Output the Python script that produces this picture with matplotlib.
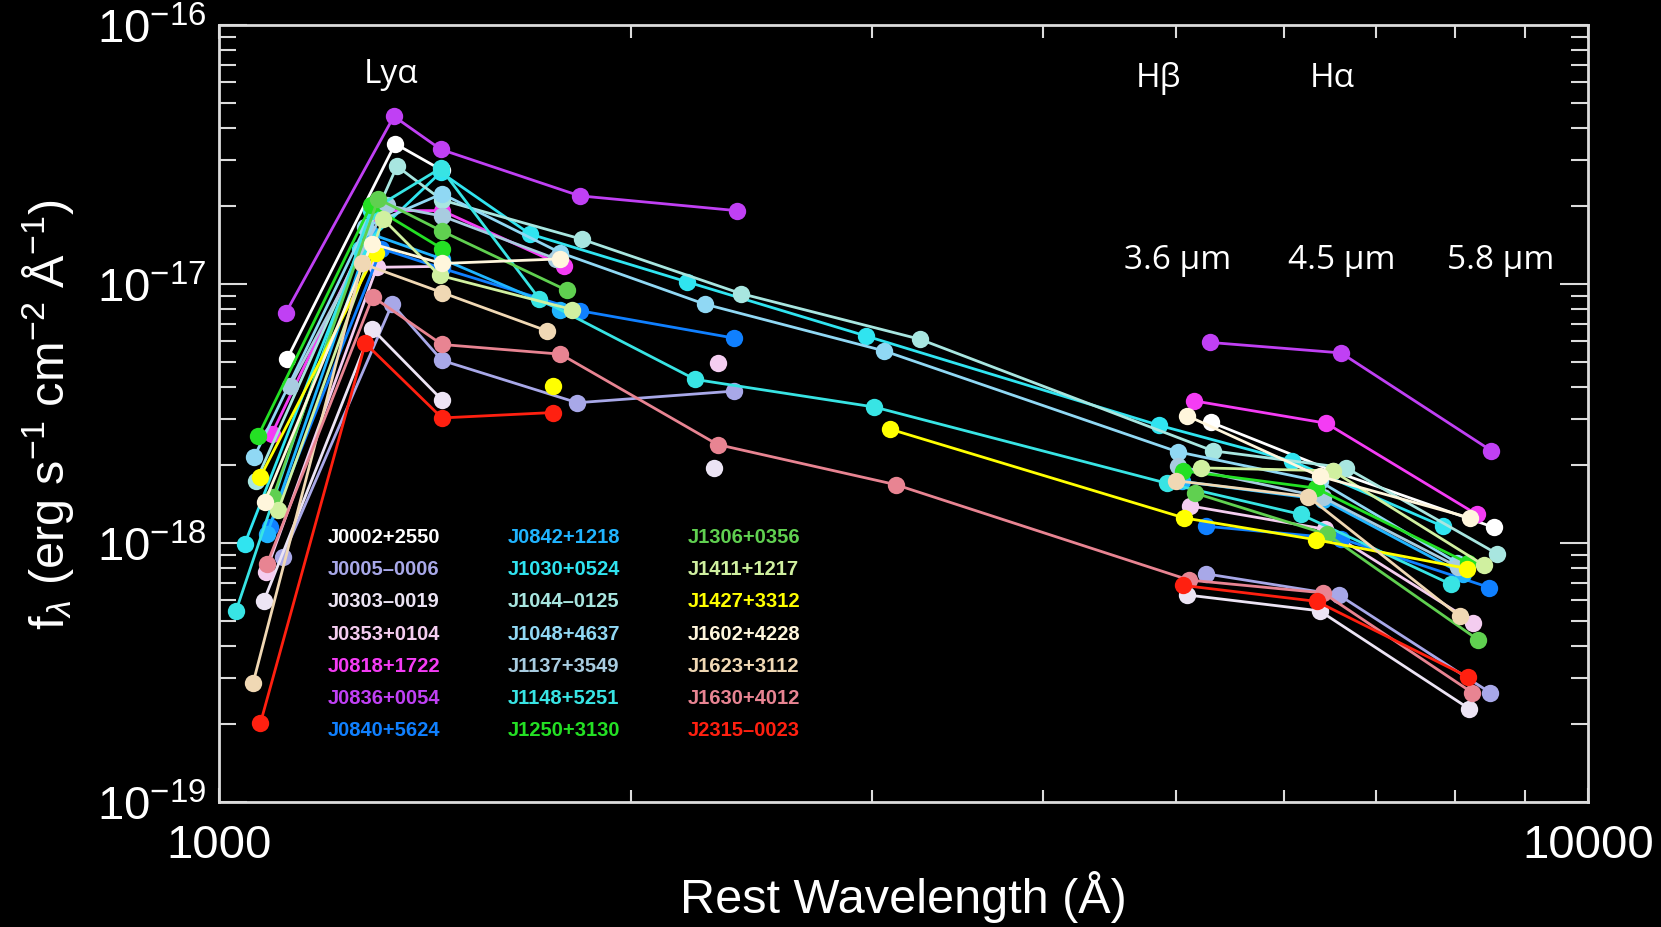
import numpy as np
import matplotlib
matplotlib.use("Agg")
import matplotlib.pyplot as plt
from matplotlib.ticker import FixedLocator, NullFormatter, FixedFormatter, LogLocator, LogFormatterSciNotation

nan = np.nan

# ---------------- data (rest wavelength in Angstrom, f_lambda in erg/s/cm2/A) ----------------
names = ["J0002+2550", "J0005-0006", "J0303-0019", "J0353+0104", "J0818+1722", "J0836+0054",
         "J0840+5624", "J0842+1218", "J1030+0524", "J1044-0125", "J1048+4637", "J1137+3549",
         "J1148+5251", "J1250+3130", "J1306+0356", "J1411+1217", "J1427+3312", "J1602+4228",
         "J1623+3112", "J1630+4012", "J2315-0023"]
colors = ["#ffffff", "#a8a8e8", "#ece4f4", "#f4cdf0", "#f43cf4", "#c040f4",
          "#1080ff", "#20b4ff", "#30e4f0", "#a8e6e0", "#90d8f4", "#a8cce0",
          "#38e4e4", "#24e024", "#60d050", "#d0f0a0", "#ffff00", "#fff6dc",
          "#f0d8b4", "#e88492", "#ff2010"]

j0002_wave = [1121, 1345, 1455, nan, 5300, 6508, 8532]
j0002_flux = [5.12e-18, 3.48e-17, 2.75e-17, nan, 2.93e-18, 1.90e-18, 1.15e-18]
j0005_wave = [1113, 1338, 1455, 1827, 2379, nan, 5262, 6577, 8486]
j0005_flux = [8.85e-19, 8.36e-18, 5.07e-18, 3.48e-18, 3.86e-18, nan, 7.60e-19, 6.30e-19, 2.64e-19]
j0303_wave = [1078, 1293, 1455, nan, 2300, nan, 5096, 6368, 8190]
j0303_flux = [5.95e-19, 6.73e-18, 3.57e-18, nan, 1.94e-18, nan, 6.30e-19, 5.47e-19, 2.29e-19]
j0353_wave = [1082, 1304, 1455, nan, 2313, nan, 5124, 6427, 8248]
j0353_flux = [7.75e-19, 1.16e-17, 1.17e-17, nan, 4.97e-18, nan, 1.39e-18, 1.13e-18, 4.93e-19]
j0818_wave = [1093, 1309, 1455, 1788, nan, 5152, 6439, 8293]
j0818_flux = [2.64e-18, 1.92e-17, 1.92e-17, 1.17e-17, nan, 3.54e-18, 2.90e-18, 1.29e-18]
j0836_wave = [1119, 1342, 1452, 1834, 2388, nan, 5291, 6600, 8501]
j0836_flux = [7.75e-18, 4.44e-17, 3.31e-17, 2.19e-17, 1.92e-17, nan, 5.95e-18, 5.42e-18, 2.27e-18]
j0840_wave = [1089, 1314, 1455, 1834, 2379, nan, 5262, 6600, 8472]
j0840_flux = [1.15e-18, 1.37e-17, 1.15e-17, 7.89e-18, 6.18e-18, nan, 1.16e-18, 1.04e-18, 6.73e-19]
j0842_wave = [1084, 1291, 1455, 1776, nan, 5050, 6404, 8100]
j0842_flux = [1.08e-18, 1.56e-17, 1.25e-17, 7.97e-18, nan, 1.73e-18, 1.47e-18, 7.60e-19]
j1030_wave = [1044, 1268, 1452, 1687, 2196, 2969, 4857, 6081, 7834]
j1030_flux = [9.91e-19, 1.37e-17, 2.70e-17, 1.56e-17, 1.02e-17, 6.30e-18, 2.85e-18, 2.07e-18, 1.16e-18]
j1044_wave = [1064, 1349, 1455, 1840, 2405, 3251, 5319, 6660, 8578]
j1044_flux = [1.73e-18, 2.85e-17, 2.11e-17, 1.49e-17, 9.19e-18, 6.12e-18, 2.27e-18, 1.95e-18, 9.10e-19]
j1048_wave = [1061, 1279, 1455, 1776, 2264, 3060, 5014, 6368, 8020]
j1048_flux = [2.15e-18, 1.66e-17, 2.23e-17, 1.32e-17, 8.36e-18, 5.52e-18, 2.25e-18, 1.73e-18, 8.40e-19]
j1137_wave = [1127, 1326, 1455, 1763, nan, 5014, 6404, 8030]
j1137_flux = [4.04e-18, 2.01e-17, 1.83e-17, 1.25e-17, nan, 1.98e-18, 1.50e-18, 8.10e-19]
j1148_wave = [1029, 1291, 1452, 1714, 2228, 3011, 4927, 6169, 7945]
j1148_flux = [5.47e-19, 1.92e-17, 2.80e-17, 8.76e-18, 4.28e-18, 3.35e-18, 1.70e-18, 1.29e-18, 6.92e-19]
j1250_wave = [1068, 1291, 1455, nan, 5060, 6324, 8175]
j1250_flux = [2.59e-18, 2.01e-17, 1.37e-17, nan, 1.90e-18, 1.63e-18, 8.36e-19]
j1306_wave = [1095, 1307, 1455, 1795, nan, 5160, 6450, 8307]
j1306_flux = [1.50e-18, 2.13e-17, 1.60e-17, 9.45e-18, nan, 1.56e-18, 1.08e-18, 4.24e-19]
j1411_wave = [1105, 1318, 1449, 1811, nan, 5216, 6508, 8397]
j1411_flux = [1.34e-18, 1.78e-17, 1.08e-17, 7.97e-18, nan, 1.95e-18, 1.90e-18, 8.20e-19]
j1427_wave = [1072, 1302, nan, 1754, nan, 3093, 5069, 6324, 8160]
j1427_flux = [1.80e-18, 1.32e-17, nan, 4.04e-18, nan, 2.75e-18, 1.25e-18, 1.03e-18, 7.97e-19]
j1602_wave = [1080, 1293, 1455, 1776, nan, 5096, 6368, 8204]
j1602_flux = [1.44e-18, 1.43e-17, 1.20e-17, 1.25e-17, nan, 3.10e-18, 1.81e-18, 1.25e-18]
j1623_wave = [1059, 1272, 1455, 1735, nan, 4997, 6246, 8059]
j1623_flux = [2.88e-19, 1.20e-17, 9.27e-18, 6.60e-18, nan, 1.74e-18, 1.51e-18, 5.21e-19]
j1630_wave = [1084, 1295, 1455, 1776, 2313, 3121, 5115, 6404, 8234]
j1630_flux = [8.28e-19, 8.93e-18, 5.84e-18, 5.36e-18, 2.40e-18, 1.68e-18, 7.19e-19, 6.42e-19, 2.64e-19]
j2315_wave = [1072, 1279, 1455, 1754, nan, 5060, 6336, 8175]
j2315_flux = [2.01e-19, 5.90e-18, 3.04e-18, 3.19e-18, nan, 6.86e-19, 5.95e-19, 3.04e-19]

waves = [j0002_wave, j0005_wave, j0303_wave, j0353_wave, j0818_wave, j0836_wave, j0840_wave,
         j0842_wave, j1030_wave, j1044_wave, j1048_wave, j1137_wave, j1148_wave, j1250_wave,
         j1306_wave, j1411_wave, j1427_wave, j1602_wave, j1623_wave, j1630_wave, j2315_wave]
fluxes = [j0002_flux, j0005_flux, j0303_flux, j0353_flux, j0818_flux, j0836_flux, j0840_flux,
          j0842_flux, j1030_flux, j1044_flux, j1048_flux, j1137_flux, j1148_flux, j1250_flux,
          j1306_flux, j1411_flux, j1427_flux, j1602_flux, j1623_flux, j1630_flux, j2315_flux]

line_labels = ["Ly\u03b1", "H\u03b2", "H\u03b1", "3.6 \u00b5m", "4.5 \u00b5m", "5.8 \u00b5m"]
x_tick_values = [1000, 10000]
x_tick_labels = ["1000", "10000"]
y_tick_values = [1e-19, 1e-18, 1e-17, 1e-16]

# ---------------- style ----------------
plt.rcParams['font.family'] = ['Liberation Sans', 'DejaVu Sans']
plt.rcParams['mathtext.fontset'] = 'custom'
plt.rcParams['mathtext.rm'] = 'Liberation Sans'
plt.rcParams['mathtext.it'] = 'Liberation Sans:italic'
plt.rcParams['mathtext.bf'] = 'Liberation Sans:bold'

W, H = 1661, 928
fig = plt.figure(figsize=(W / 100, H / 100), dpi=100, facecolor='black')
ax = fig.add_axes([219 / W, 1 - 803 / H, (1588 - 219) / W, (803 - 26) / H])
ax.set_facecolor('black')

for wv, fl, c in zip(waves, fluxes, colors):
    ax.plot(wv, fl, '-', color=c, lw=2.0, marker='o', ms=12.5, mew=0, solid_capstyle='round')

ax.set_xscale('log')
ax.set_yscale('log')
ax.set_xlim(1000, 10000)
ax.set_ylim(1e-19, 1e-16)

spine_c = '#dcdcdc'
for s in ax.spines.values():
    s.set_color(spine_c)
    s.set_linewidth(2)

ax.xaxis.set_major_locator(FixedLocator(x_tick_values))
ax.xaxis.set_major_formatter(FixedFormatter(x_tick_labels))
ax.xaxis.set_minor_locator(LogLocator(base=10, subs=np.arange(2, 10)))
ax.xaxis.set_minor_formatter(NullFormatter())
ax.yaxis.set_major_locator(FixedLocator(y_tick_values))
ax.yaxis.set_major_formatter(LogFormatterSciNotation())
ax.yaxis.set_minor_locator(LogLocator(base=10, subs=np.arange(2, 10), numticks=20))
ax.yaxis.set_minor_formatter(NullFormatter())

ax.tick_params(which='both', direction='in', top=True, right=True, color=spine_c,
               labelcolor='white', width=1.5)
ax.tick_params(axis='x', which='major', length=10, labelsize=34, pad=15)
ax.tick_params(axis='x', which='minor', length=9)
ax.tick_params(axis='y', which='major', length=20, labelsize=34, pad=9)
ax.tick_params(axis='y', which='minor', length=12)

ax.set_xlabel("Rest Wavelength (\u00c5)", color='white', fontsize=35)
ax.xaxis.set_label_coords(0.5, -0.121)
ax.xaxis.label.set_verticalalignment('center')
ax.set_ylabel("f$_\\lambda$ (erg s$^{-1}$ cm$^{-2}$ \u00c5$^{-1}$)", color='white', fontsize=35)
ax.yaxis.set_label_coords(-0.125, 0.5)
ax.yaxis.label.set_verticalalignment('center')

# line / band annotations
ann_pos = [(0.1256, 0.938), (0.686, 0.933), (0.813, 0.933), (0.700, 0.698), (0.820, 0.698), (0.936, 0.698)]
for lab, (xx, yy) in zip(line_labels, ann_pos):
    ax.text(xx, yy, lab, transform=ax.transAxes, color='white', fontsize=24,
            family=['Open Sans', 'DejaVu Sans'], ha='center', va='center')

# object name key
col_x = [0.0796, 0.211, 0.3426]
row0 = 0.3423
dy = 0.0416
for i, (nm, c) in enumerate(zip(names, colors)):
    col, row = divmod(i, 7)
    ax.text(col_x[col], row0 - row * dy, nm.replace('-', '\u2013'), transform=ax.transAxes,
            color=c, fontsize=14.5, fontweight='bold', ha='left', va='center')

fig.savefig("out.png", dpi=100, facecolor='black')
